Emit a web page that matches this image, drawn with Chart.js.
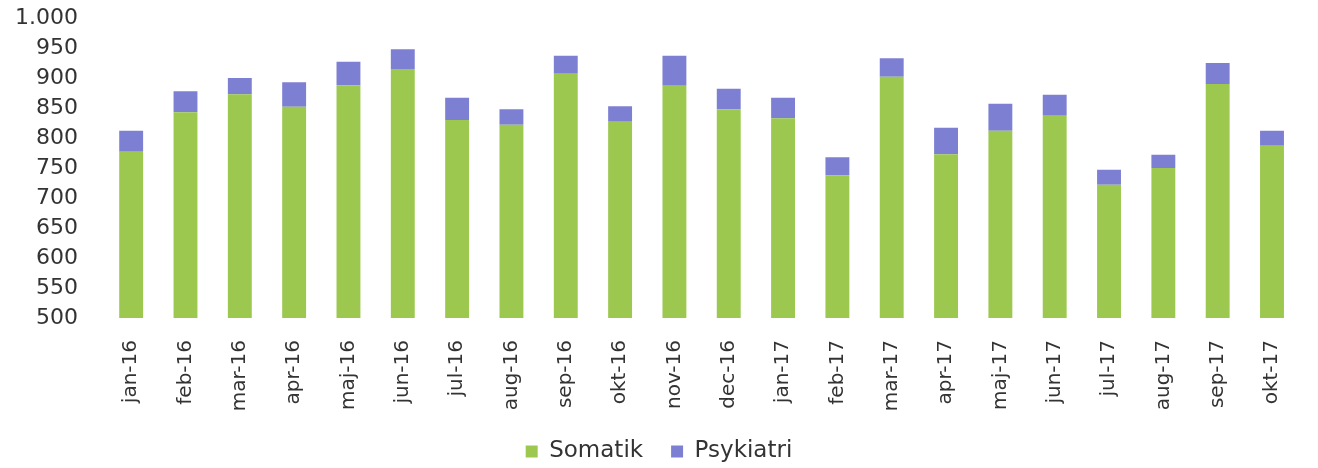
<!DOCTYPE html>
<html>
<head>
<meta charset="utf-8">
<script src="https://cdn.jsdelivr.net/npm/chart.js@4"></script>
<style>
  html, body { margin: 0; padding: 0; background: #ffffff; }
  #wrap { width: 1318px; height: 468px; }
</style>
</head>
<body>
<div id="wrap"><canvas id="barChart" width="1318" height="468"></canvas></div>
<script>
// Months on the x axis
var months = ['jan-16', 'feb-16', 'mar-16', 'apr-16', 'maj-16', 'jun-16', 'jul-16', 'aug-16',
    'sep-16', 'okt-16', 'nov-16', 'dec-16', 'jan-17', 'feb-17', 'mar-17', 'apr-17',
    'maj-17', 'jun-17', 'jul-17', 'aug-17', 'sep-17', 'okt-17'];

// Stacked values
var somatik = [777, 843, 873, 852, 888, 915, 830, 822, 907, 827, 887, 848,
    833, 738, 902, 773, 812, 837, 722, 750, 890, 787];
var psykiatri = [35, 35, 27, 41, 39, 33, 37, 26, 30, 26, 50, 34,
    34, 30, 31, 44, 45, 35, 25, 22, 35, 25];

// Y axis range
var yMin = 500;
var yMax = 1000;
var yStep = 50;

var textColor = '#333333';

function formatThousands(v) {
    return String(v).replace(/\B(?=(\d{3})+(?!\d))/g, '.');
}

// Keep the wide gap between legend items without a tall legend box
var legendHeight = {
    id: 'legendHeight',
    beforeLayout: function (chart) {
        var lg = chart.legend;
        if (!lg || lg._fixedFit) return;
        var fit = lg.fit;
        lg.fit = function () {
            fit.call(this);
            this.height = 60;
        };
        lg._fixedFit = true;
    }
};

var ctx = document.getElementById('barChart');

new Chart(ctx, {
    type: 'bar',
    data: {
        labels: months,
        datasets: [
            {
                label: 'Somatik',
                data: somatik,
                backgroundColor: '#9cc850',
                barPercentage: 0.44,
                categoryPercentage: 1.0
            },
            {
                label: 'Psykiatri',
                data: psykiatri,
                backgroundColor: '#7d80d2',
                barPercentage: 0.44,
                categoryPercentage: 1.0
            }
        ]
    },
    plugins: [legendHeight],
    options: {
        responsive: false,
        animation: false,
        layout: {
            padding: { top: 18, right: 0, bottom: -4, left: 0 }
        },
        plugins: {
            tooltip: { enabled: false },
            legend: {
                position: 'bottom',
                labels: {
                    color: textColor,
                    font: { family: 'DejaVu Sans', size: 23 },
                    boxWidth: 12,
                    boxHeight: 12,
                    padding: 28
                }
            }
        },
        scales: {
            x: {
                stacked: true,
                grid: { display: false, drawTicks: false },
                border: { display: false },
                ticks: {
                    color: textColor,
                    font: { family: 'DejaVu Sans', size: 20 },
                    minRotation: 90,
                    maxRotation: 90,
                    padding: 22,
                    autoSkip: false
                },
                afterFit: function (scale) {
                    scale.height = 94;
                    scale.paddingTop = 0;
                    scale.paddingBottom = 0;
                }
            },
            y: {
                stacked: true,
                min: yMin,
                max: yMax,
                grid: { display: false, drawTicks: false },
                border: { display: false },
                ticks: {
                    stepSize: yStep,
                    autoSkip: false,
                    color: textColor,
                    font: { family: 'DejaVu Sans', size: 22 },
                    padding: 26,
                    callback: function (v) { return formatThousands(v); }
                },
                afterFit: function (scale) {
                    scale.width = 104;
                    scale.paddingTop = 0;
                    scale.paddingBottom = 0;
                }
            }
        }
    }
});
</script>
</body>
</html>
